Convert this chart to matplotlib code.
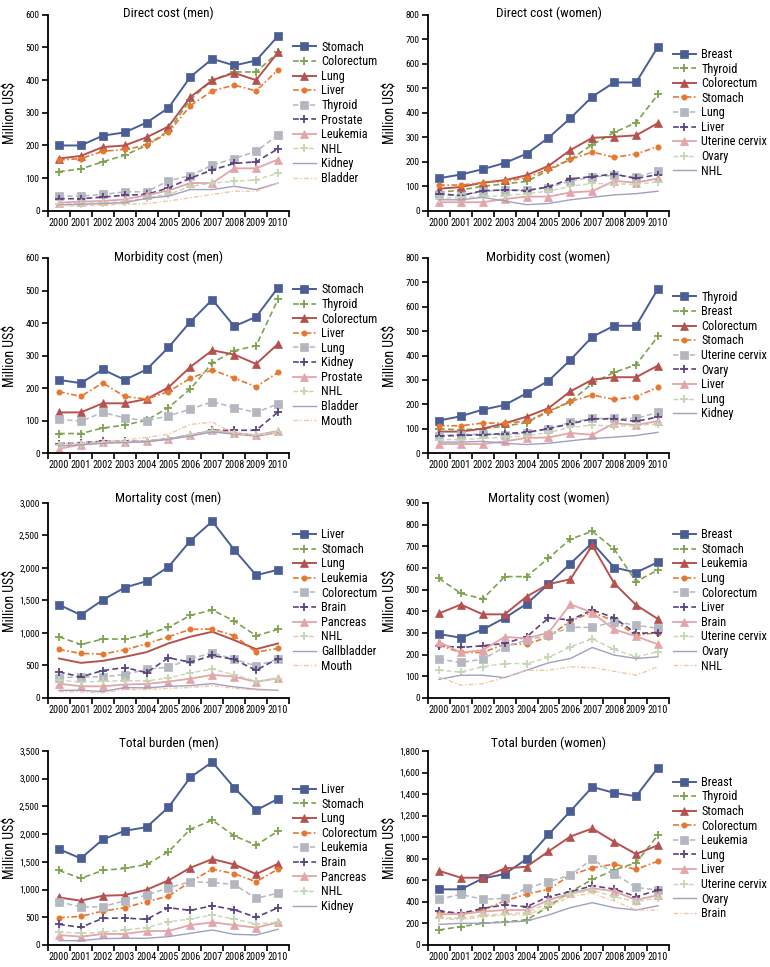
import numpy as np
import matplotlib
matplotlib.use('Agg')
import matplotlib.pyplot as plt
from matplotlib import font_manager
from matplotlib.ticker import FixedLocator, StrMethodFormatter

names = {f.name for f in font_manager.fontManager.ttflist}
fam = 'Liberation Sans'
for cand in ['Roboto Condensed', 'Archivo Narrow', 'Asap Condensed', 'Barlow Condensed',
             'Liberation Sans Narrow']:
    if cand in names:
        fam = cand
        break
plt.rcParams['font.family'] = [fam, 'DejaVu Sans']

years = [str(y) for y in range(2000, 2011)]

# ---- Direct cost (men)
dm_labels = ['Stomach', 'Colorectum', 'Lung', 'Liver', 'Thyroid', 'Prostate',
             'Leukemia', 'NHL', 'Kidney', 'Bladder']
dm_values = [
    [200, 200, 230, 240, 270, 315, 410, 465, 445, 460, 535],
    [120, 128, 150, 170, 200, 245, 340, 400, 425, 425, 485],
    [160, 168, 195, 200, 225, 258, 348, 400, 422, 400, 485],
    [155, 160, 182, 188, 200, 240, 322, 367, 385, 367, 432],
    [45, 45, 50, 58, 58, 92, 108, 140, 160, 182, 232],
    [37, 37, 42, 48, 50, 70, 100, 125, 145, 150, 190],
    [25, 28, 30, 35, 48, 62, 85, 85, 130, 130, 157],
    [20, 22, 25, 28, 40, 50, 75, 85, 90, 95, 115],
    [18, 20, 22, 25, 38, 45, 65, 65, 75, 65, 85],
    [15, 15, 18, 20, 22, 30, 40, 50, 60, 60, 85],
]

# ---- Direct cost (women)
dw_labels = ['Breast', 'Thyroid', 'Colorectum', 'Stomach', 'Lung', 'Liver',
             'Uterine cervix', 'Ovary', 'NHL']
dw_values = [
    [133, 148, 170, 195, 233, 298, 378, 466, 524, 524, 670],
    [75, 85, 100, 110, 120, 165, 210, 270, 320, 360, 475],
    [90, 97, 115, 125, 145, 183, 248, 298, 302, 308, 358],
    [105, 105, 115, 120, 135, 170, 210, 240, 218, 232, 262],
    [65, 62, 80, 85, 85, 95, 122, 138, 145, 138, 163],
    [70, 62, 82, 85, 82, 98, 130, 140, 150, 132, 148],
    [35, 35, 35, 48, 58, 58, 75, 80, 122, 115, 132],
    [50, 55, 58, 62, 70, 80, 100, 112, 110, 108, 118],
    [45, 45, 55, 40, 25, 30, 45, 55, 65, 70, 80],
]

# ---- Morbidity cost (men)
mm_labels = ['Stomach', 'Thyroid', 'Colorectum', 'Liver', 'Lung', 'Kidney',
             'Prostate', 'NHL', 'Bladder', 'Mouth']
mm_values = [
    [225, 215, 257, 225, 257, 325, 404, 472, 390, 419, 509],
    [60, 60, 77, 86, 101, 140, 197, 277, 315, 330, 473],
    [125, 125, 153, 153, 166, 202, 265, 316, 303, 274, 336],
    [189, 174, 216, 174, 166, 189, 230, 256, 230, 204, 248],
    [104, 98, 125, 108, 100, 114, 135, 158, 140, 125, 151],
    [29, 32, 36, 36, 36, 44, 55, 70, 70, 70, 126],
    [13, 26, 34, 34, 36, 44, 55, 70, 62, 55, 68],
    [25, 28, 32, 35, 38, 42, 55, 68, 60, 55, 65],
    [22, 25, 30, 32, 35, 42, 52, 65, 58, 52, 62],
    [30, 32, 35, 40, 48, 58, 88, 95, 60, 55, 62],
]

# ---- Morbidity cost (women)
mw_labels = ['Thyroid', 'Breast', 'Colorectum', 'Stomach', 'Uterine cervix',
             'Ovary', 'Liver', 'Lung', 'Kidney']
mw_values = [
    [133, 151, 178, 197, 245, 296, 382, 477, 522, 522, 674],
    [100, 95, 100, 110, 125, 170, 210, 286, 331, 362, 479],
    [88, 88, 100, 122, 149, 184, 253, 301, 311, 311, 359],
    [112, 112, 123, 123, 130, 171, 212, 238, 220, 231, 270],
    [71, 75, 78, 74, 82, 99, 126, 142, 142, 142, 167],
    [70, 72, 75, 80, 85, 100, 120, 140, 140, 130, 148],
    [37, 37, 37, 48, 62, 64, 82, 75, 122, 115, 131],
    [55, 55, 60, 65, 70, 85, 105, 115, 110, 112, 120],
    [45, 45, 48, 40, 35, 40, 50, 60, 65, 72, 85],
]

# ---- Mortality cost (men)
tm_labels = ['Liver', 'Stomach', 'Lung', 'Leukemia', 'Colorectum', 'Brain',
             'Pancreas', 'NHL', 'Gallbladder', 'Mouth']
tm_values = [
    [1436, 1276, 1508, 1698, 1796, 2017, 2419, 2717, 2280, 1889, 1971],
    [942, 823, 906, 906, 978, 1086, 1271, 1354, 1184, 957, 1055],
    [607, 540, 571, 633, 705, 839, 942, 1019, 890, 751, 839],
    [746, 685, 674, 741, 834, 942, 1055, 1060, 957, 705, 762],
    [314, 324, 324, 360, 443, 473, 602, 695, 597, 494, 597],
    [401, 324, 422, 468, 391, 618, 551, 654, 592, 427, 607],
    [221, 180, 180, 206, 216, 252, 298, 355, 329, 247, 304],
    [270, 247, 257, 268, 262, 309, 386, 443, 360, 257, 298],
    [118, 118, 98, 160, 155, 180, 190, 221, 170, 134, 118],
    [100, 95, 80, 130, 130, 150, 160, 190, 150, 120, 110],
]

# ---- Mortality cost (women)
tw_labels = ['Breast', 'Stomach', 'Leukemia', 'Lung', 'Colorectum', 'Liver',
             'Brain', 'Uterine cervix', 'Ovary', 'NHL']
tw_values = [
    [295, 278, 316, 369, 434, 525, 620, 716, 602, 579, 627],
    [552, 483, 457, 560, 560, 645, 733, 769, 687, 537, 591],
    [390, 431, 386, 386, 468, 525, 548, 704, 529, 429, 364],
    [244, 210, 210, 248, 248, 282, 356, 395, 356, 289, 302],
    [179, 164, 179, 235, 267, 289, 326, 326, 352, 336, 321],
    [241, 233, 241, 252, 282, 369, 360, 406, 370, 298, 302],
    [259, 210, 221, 282, 275, 301, 432, 394, 316, 285, 247],
    [128, 120, 144, 159, 159, 187, 236, 273, 224, 190, 213],
    [86, 105, 105, 94, 128, 162, 182, 233, 198, 182, 190],
    [97, 59, 66, 94, 128, 128, 144, 140, 123, 105, 144],
]

# ---- Total burden (men)
bm_labels = ['Liver', 'Stomach', 'Lung', 'Colorectum', 'Leukemia', 'Brain',
             'Pancreas', 'NHL', 'Kidney']
bm_values = [
    [1729, 1561, 1903, 2059, 2125, 2485, 3025, 3301, 2839, 2431, 2635],
    [1345, 1200, 1345, 1381, 1453, 1681, 2089, 2251, 1969, 1801, 2053],
    [858, 798, 888, 900, 996, 1164, 1393, 1549, 1453, 1279, 1465],
    [492, 516, 612, 672, 780, 882, 1140, 1369, 1285, 1140, 1369],
    [780, 684, 690, 798, 900, 1032, 1140, 1128, 1092, 840, 936],
    [372, 318, 480, 486, 462, 672, 624, 708, 636, 498, 672],
    [180, 150, 198, 198, 252, 252, 360, 408, 360, 312, 408],
    [234, 210, 228, 270, 312, 420, 468, 540, 468, 378, 408],
    [78, 78, 114, 120, 120, 150, 210, 270, 192, 180, 282],
]

# ---- Total burden (women)
bw_labels = ['Breast', 'Thyroid', 'Stomach', 'Colorectum', 'Leukemia', 'Lung',
             'Liver', 'Uterine cervix', 'Ovary', 'Brain']
bw_values = [
    [516, 516, 617, 658, 797, 1025, 1241, 1466, 1411, 1380, 1646],
    [139, 170, 201, 216, 232, 355, 494, 608, 695, 763, 1019],
    [688, 624, 624, 710, 726, 868, 1006, 1081, 957, 843, 926],
    [309, 284, 324, 408, 472, 516, 648, 716, 750, 701, 778],
    [423, 469, 423, 432, 525, 587, 648, 797, 661, 534, 509],
    [315, 293, 340, 370, 355, 448, 494, 549, 519, 448, 509],
    [284, 287, 309, 324, 324, 417, 478, 525, 500, 417, 463],
    [253, 247, 278, 284, 300, 386, 472, 509, 448, 401, 438],
    [191, 201, 201, 210, 222, 278, 346, 392, 346, 324, 364],
    [247, 232, 262, 278, 278, 355, 448, 478, 408, 324, 324],
]

titles = ['Direct cost (men)', 'Direct cost (women)',
          'Morbidity cost (men)', 'Morbidity cost (women)',
          'Mortality cost (men)', 'Mortality cost (women)',
          'Total burden (men)', 'Total burden (women)']
panels = [(dm_labels, dm_values, 600, 100), (dw_labels, dw_values, 800, 100),
          (mm_labels, mm_values, 600, 100), (mw_labels, mw_values, 800, 100),
          (tm_labels, tm_values, 3000, 500), (tw_labels, tw_values, 900, 100),
          (bm_labels, bm_values, 3500, 500), (bw_labels, bw_values, 1800, 200)]

# (color, linestyle, marker, markersize, linewidth)
styles = [
    ('#4a5d95', '-', 's', 5.2, 1.4),
    ('#7ea24e', (0, (3.5, 2)), '+', 6, 1.2),
    ('#b5524f', '-', '^', 5.2, 1.4),
    ('#e8772e', (0, (3.5, 1.5, 1, 1.5)), 'o', 3.8, 1.2),
    ('#b4b7c0', (0, (3.5, 2)), 's', 5.2, 1.1),
    ('#5a4480', (0, (3.5, 2)), '+', 6, 1.2),
    ('#e3a4aa', '-', '^', 5.2, 1.3),
    ('#c6d5b4', (0, (3.5, 2)), '+', 6, 1.0),
    ('#a0a0c2', '-', None, 0, 1.0),
    ('#f4c6a6', (0, (3.5, 1.5, 1, 1.5)), None, 0, 1.0),
]
no_markers = {(4, 2)}  # Lung line in mortality (men) is drawn without markers

fig = plt.figure(figsize=(7.7, 9.67), dpi=100)
lefts = [0.0623, 0.5558]
bottoms = [0.782, 0.5315, 0.2782, 0.0228]
heights = [0.2027, 0.2017, 0.2017, 0.2006]
title_y = [1.008, 1.005, 1.026, 1.04]
x = np.arange(len(years))

for i, (labels, values, ymax, step) in enumerate(panels):
    r, c = divmod(i, 2)
    ax = fig.add_axes([lefts[c], bottoms[r], 0.313, heights[r]])
    for j, (lab, vals, (col, ls, mk, ms, lw)) in enumerate(zip(labels, values, styles)):
        ax.plot(x, vals, color=col, linestyle=ls, linewidth=lw, clip_on=False)
        if mk is not None and (i, j) not in no_markers:
            ax.plot(x, vals, linestyle='none', color=col, marker=mk, markersize=ms,
                    markeredgewidth=1.3 if mk == '+' else 0.5, clip_on=False)
        # legend proxy keeps the marker even where the line has none
        ax.plot([], [], color=col, linestyle=ls, linewidth=lw, marker=mk, markersize=ms,
                markeredgewidth=1.3 if mk == '+' else 0.5, label=lab)
    ax.set_xlim(-0.5, 10.5)
    ax.set_ylim(0, ymax)
    ax.set_yticks(np.arange(0, ymax + 1, step))
    ax.yaxis.set_major_formatter(StrMethodFormatter('{x:,.0f}'))
    ax.xaxis.set_major_locator(FixedLocator(np.arange(-0.5, 11, 1)))
    ax.xaxis.set_minor_locator(FixedLocator(x))
    ax.set_xticklabels([])
    ax.set_xticklabels(years, minor=True)
    ax.tick_params(axis='x', which='major', direction='out', length=4, width=1.2)
    ax.tick_params(axis='x', which='minor', length=0, labelsize=7.4, pad=5)
    ax.tick_params(axis='y', direction='out', length=4, width=1.2, labelsize=6.8, pad=2)
    for s in ['top', 'right']:
        ax.spines[s].set_visible(False)
    for s in ['left', 'bottom']:
        ax.spines[s].set_linewidth(1.3)
    ax.set_ylabel('Million US$', fontsize=10)
    ax.yaxis.set_label_coords(-0.128, 0.5)
    ax.text(0.5, title_y[r], titles[i], transform=ax.transAxes, ha='center',
            va='center', fontsize=9.5)
    handles, labs = ax.get_legend_handles_labels()
    ax.legend(handles, labs, loc='center left', bbox_to_anchor=(1.015, 0.5),
              frameon=False, fontsize=8.8, handlelength=1.9, handletextpad=0.45,
              labelspacing=0.13, borderaxespad=0, borderpad=0)

fig.savefig('out.png', dpi=100)
